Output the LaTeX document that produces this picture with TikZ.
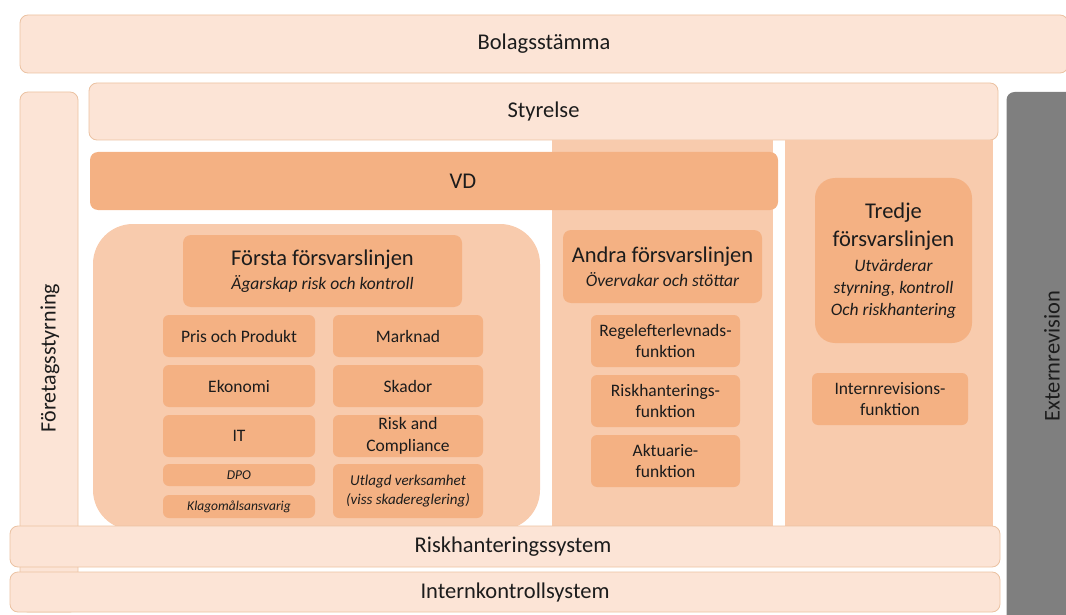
\documentclass[tikz,border=0pt]{standalone}
\usepackage{fontspec}
\setmainfont{Carlito}
\usetikzlibrary{positioning}

\definecolor{lightpeach}{HTML}{FCE4D6}
\definecolor{midpeach}{HTML}{F8CBAD}
\definecolor{darkpeach}{HTML}{F4B183}
\definecolor{rimpeach}{HTML}{EBC2A2}
\definecolor{extgrey}{HTML}{7F7F7F}
\definecolor{inktext}{HTML}{1C1C1C}

\newcommand{\bigline}{\fontsize{22.5}{27}\selectfont}
\newcommand{\subline}{\fontsize{17.5}{21}\selectfont\itshape}

\tikzset{
  bar/.style={draw=rimpeach,fill=lightpeach,line width=0.8pt,rounded corners=8pt,
    inner sep=0pt,text=inktext,font=\bigline},
  column/.style={fill=midpeach,inner sep=0pt},
  headbox/.style={fill=darkpeach,rounded corners=8pt,inner sep=0pt,align=center,
    text=inktext,font=\fontsize{22.5}{24}\selectfont},
  unit/.style={fill=darkpeach,rounded corners=6pt,inner sep=0pt,align=center,
    text=inktext,font=\fontsize{17.5}{21.5}\selectfont},
  tinyunit/.style={unit,font=\fontsize{13.5}{16}\selectfont\itshape},
}

\begin{document}
\begin{tikzpicture}[x=1pt,y=-1pt]
\useasboundingbox (0,0) rectangle (1066,615);

% outer frame
\node(bolag) at (544,44)[bar,minimum width=1048pt,minimum height=58pt] {Bolagsstämma};
\node(styrning) at (49,352)[bar,minimum width=58pt,minimum height=520pt] {};
\node(styrningtext) at (50,358)[rotate=90,text=inktext,font=\fontsize{22}{26}\selectfont] {Företagsstyrning};
\node(extern) at (1048,366)[fill=extgrey,rounded corners=8pt,minimum width=83pt,minimum height=548pt] {};
\node(externtext) at (1052,356)[rotate=90,text=inktext,font=\fontsize{22.5}{26}\selectfont] {Externrevision};
\node(styrelse) at (543.5,111.5)[bar,minimum width=909pt,minimum height=57pt] {Styrelse};

% columns behind the lines
\node(col2) at (662.5,334)[column,minimum width=221pt,minimum height=388pt] {};
\node(col3) at (889,334)[column,minimum width=208pt,minimum height=388pt] {};
\node(vd) at (434,181)[headbox,minimum width=688pt,minimum height=58pt] {};
\node(vdtext) at (463,181)[text=inktext,font=\bigline] {VD};
\node(col1) at (316.5,377)[column,rounded corners=40pt,minimum width=447pt,minimum height=306pt] {};

% forsta
\node(forsta) at (322.5,271)[headbox,minimum width=279pt,minimum height=72pt]
  {Första försvarslinjen\\\subline Ägarskap risk och kontroll};
\node(pris) at (239,336)[unit,minimum width=152pt,minimum height=42pt] {Pris och Produkt};
\node(marknad) at (408,336)[unit,minimum width=150pt,minimum height=42pt] {Marknad};
\node(ekonomi) at (239,386)[unit,minimum width=152pt,minimum height=42pt] {Ekonomi};
\node(skador) at (408,386)[unit,minimum width=150pt,minimum height=42pt] {Skador};
\node(it) at (239,436)[unit,minimum width=152pt,minimum height=42pt] {IT};
\node(compliance) at (408,436)[unit,minimum width=150pt,minimum height=42pt] {Risk and\\Compliance};
\node(dpo) at (239,475)[tinyunit,minimum width=152pt,minimum height=22pt] {DPO};
\node(klagomal) at (239,506.5)[tinyunit,minimum width=152pt,minimum height=23pt] {Klagomålsansvarig};
\node(utlagd) at (408,491)[tinyunit,minimum width=150pt,minimum height=54pt,
  font=\fontsize{15}{19.5}\selectfont\itshape] {Utlagd verksamhet\\(viss skadereglering)};

% andra
\node(andra) at (662.5,266.5)[headbox,minimum width=199pt,minimum height=73pt]
  {Andra försvarslinjen\\\subline Övervakar och stöttar};
\node(regel) at (665.5,341)[unit,minimum width=149pt,minimum height=52pt] {Regelefterlevnads-\\funktion};
\node(riskfunk) at (665.5,401)[unit,minimum width=149pt,minimum height=52pt] {Riskhanterings-\\funktion};
\node(aktuarie) at (665.5,461)[unit,minimum width=149pt,minimum height=52pt] {Aktuarie-\\funktion};

% tredje
\node(tredje) at (893.5,260.5)[headbox,rounded corners=20pt,minimum width=157pt,minimum height=165pt,
  font=\fontsize{22.5}{28}\selectfont]
  {Tredje\\försvarslinjen\\[-3pt]\subline Utvärderar\\[-6pt]\subline styrning, kontroll\\[-6pt]\subline Och riskhantering};
\node(internrev) at (890,399)[unit,minimum width=156pt,minimum height=52pt] {Internrevisions-\\funktion};

% systems
\node(risksys) at (505,546.5)[bar,minimum width=990pt,minimum height=41pt] {};
\node(risktext) at (513,546.5)[text=inktext,font=\bigline] {Riskhanteringssystem};
\node(internsys) at (505,592)[bar,minimum width=990pt,minimum height=40pt] {};
\node(interntext) at (515,592)[text=inktext,font=\bigline] {Internkontrollsystem};

\end{tikzpicture}
\end{document}
